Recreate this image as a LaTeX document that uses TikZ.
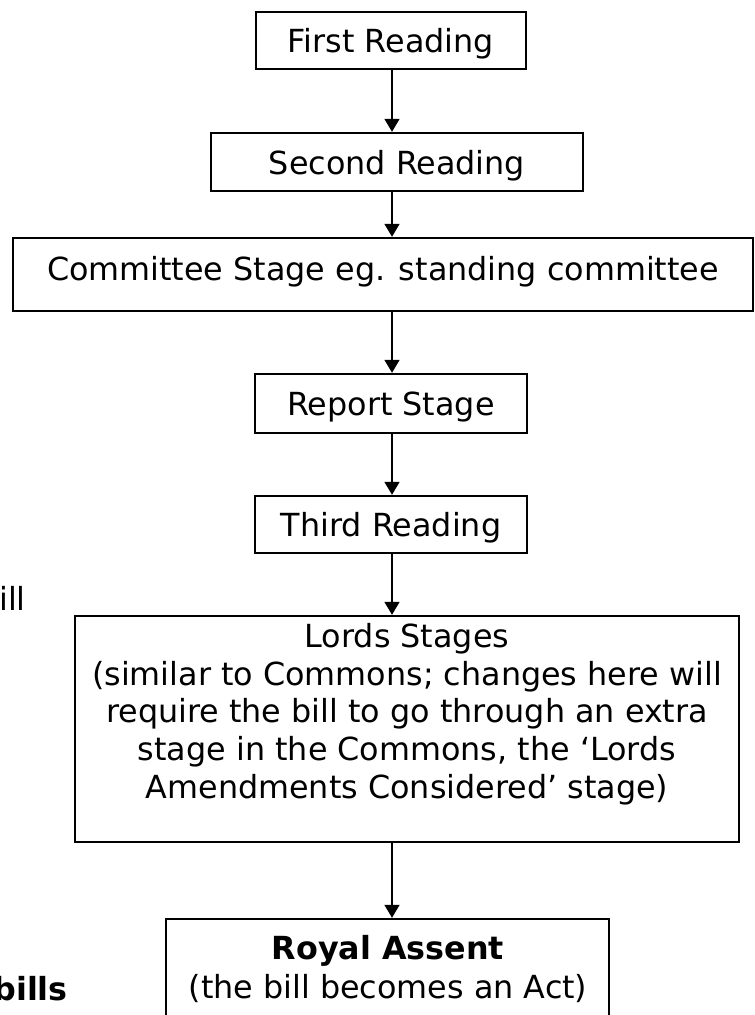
\documentclass[tikz,border=0pt]{standalone}
\usepackage{fontspec}
\setmainfont{DejaVu Sans}
\usetikzlibrary{arrows.meta}
\begin{document}
\begin{tikzpicture}[x=1pt,y=-1pt,
  every node/.style={font=\fontsize{31.8}{37.8}\selectfont},
  box/.style={draw=black, line width=2.4pt, rectangle, inner sep=0pt, text height=24pt, text depth=0pt},
  plainbox/.style={draw=black, line width=2.4pt, rectangle, inner sep=0pt},
  txt/.style={inner sep=0pt, align=center},
  conn/.style={line width=1.8pt, -{Triangle[width=15pt,length=13pt]}}]
\path[use as bounding box] (0,0) rectangle (755,1015);
\clip (0,0) rectangle (755,1015);
\coordinate (ax) at (392,0);
% boxes
\node[box, minimum width=270pt, minimum height=57pt] (first) at (391,40.5) {First Reading};
\node[box, minimum width=372pt, minimum height=58pt] (second) at (397,162) {Second Reading};
\node[box, text depth=13pt, minimum width=740pt, minimum height=73pt] (committee) at (383,274.5) {Committee Stage eg. standing committee};
\node[box, minimum width=272pt, minimum height=59pt] (report) at (391,403.5) {Report Stage};
\node[box, minimum width=272pt, minimum height=57pt] (third) at (391,524.5) {Third Reading};
\node[plainbox, minimum width=664pt, minimum height=226pt] (lords) at (407,729) {};
\node[txt, anchor=north] (lordstext) at (407,623) {Lords Stages\\(similar to Commons; changes here will\\require the bill to go through an extra\\stage in the Commons, the ‘Lords\\Amendments Considered’ stage)};
\node[plainbox, minimum width=443pt, minimum height=122pt] (royal) at (387.5,980) {};
\node[txt, anchor=north, font=\fontsize{31.8}{39}\selectfont] (royaltext) at (388,935) {\textbf{Royal Assent}\\(the bill becomes an Act)};
% side texts
\node[inner sep=0pt, anchor=base east] (billtext) at (26,610) {bill};
\node[inner sep=0pt, anchor=base east] (billstext) at (68,1000) {\textbf{bills}};
% connectors
\draw[conn] (first.south -| ax) -- (second.north -| ax);
\draw[conn] (second.south -| ax) -- (committee.north -| ax);
\draw[conn] (committee.south -| ax) -- (report.north -| ax);
\draw[conn] (report.south -| ax) -- (third.north -| ax);
\draw[conn] (third.south -| ax) -- (lords.north -| ax);
\draw[conn] (lords.south -| ax) -- (royal.north -| ax);
\end{tikzpicture}
\end{document}
